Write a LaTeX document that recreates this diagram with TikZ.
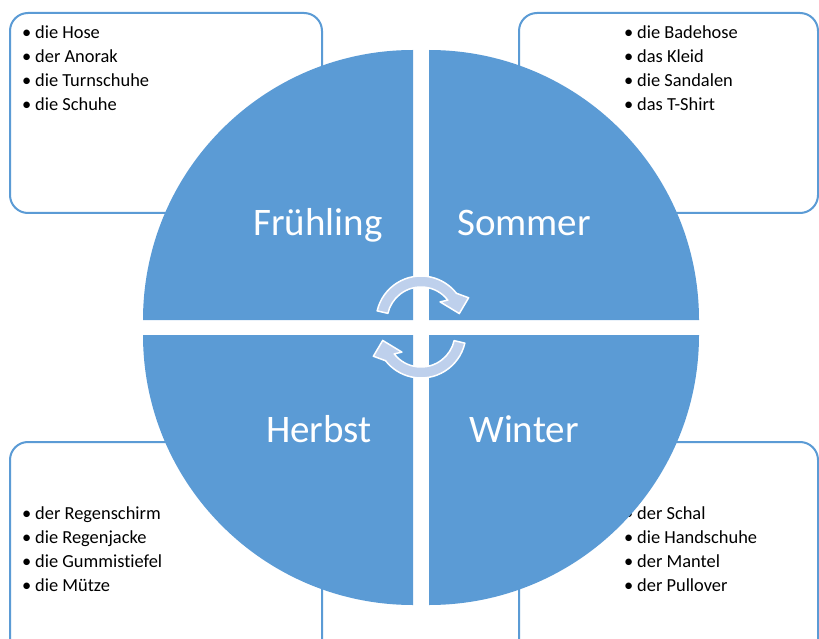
\documentclass[tikz,border=0pt]{standalone}
\usepackage{fontspec}
\setmainfont{Carlito}[Ligatures=NoCommon]
\usetikzlibrary{calc}

\definecolor{seasonblue}{HTML}{5B9BD5}
\definecolor{arrowblue}{RGB}{190,208,236}

\begin{document}
\begin{tikzpicture}[x=1pt, y=-1pt
        , listbox/.style={ draw=seasonblue, line width=2pt, rounded corners=18pt, fill=white }
        , sector/.style={ fill=seasonblue }
        , item/.style={ anchor=base west, inner sep=0pt, font=\fontsize{18.4}{22}\selectfont }
        , season/.style={ anchor=base, inner sep=0pt, text=white, font=\fontsize{39}{44}\selectfont }
        , cycarrow/.style={ fill=arrowblue, draw=white, line width=1.5pt, line join=round }
        ]
        \useasboundingbox (0,0) rectangle (819,639);

        % boxes with the clothes, drawn before the circle
        \draw[listbox] (10,13) rectangle (322,213);
        \draw[listbox] (519,13) rectangle (818,213);
        \draw[listbox] (10,442) rectangle (322,670);
        \draw[listbox] (519,442) rectangle (818,670);

        \foreach \t [count=\i] in {die Hose, der Anorak, die Turnschuhe, die Schuhe}
            \node[item] (fr\i) at (35,15+24*\i) {\llap{\textbullet\hspace{4pt}}\t};

        \foreach \t [count=\i] in {die Badehose, das Kleid, die Sandalen, das T-Shirt}
            \node[item] (so\i) at (637,15+24*\i) {\llap{\textbullet\hspace{4pt}}\t};

        \foreach \t [count=\i] in {der Regenschirm, die Regenjacke, die Gummistiefel, die Mütze}
            \node[item] (he\i) at (35,495+24*\i) {\llap{\textbullet\hspace{4pt}}\t};

        \foreach \t [count=\i] in {der Schal, die Handschuhe, der Mantel, der Pullover}
            \node[item] (wi\i) at (637,495+24*\i) {\llap{\textbullet\hspace{4pt}}\t};

        % four quarters of the circle
        \foreach \cx/\cy/\a in {413/320/180, 429/320/270, 429/335/0, 413/335/90}
            \fill[sector] (\cx,\cy) -- ++(\a:270) arc[start angle=\a, delta angle=90, radius=270] -- cycle;

        \node[season] (fr) at (318,235) {Frühling};
        \node[season] (so) at (524,235) {Sommer};
        \node[season] (he) at (319,442) {Herbst};
        \node[season] (wi) at (524,442) {Winter};

        % the two round arrows in the middle
        \foreach \r/\cy in {0/321, 180/333} {
            \coordinate (c\r) at (421,\cy);
            \filldraw[cycarrow] ($(c\r)+(193+\r:45)$)
                arc[start angle=193+\r, end angle=322+\r, radius=45]
                -- ($(c\r)+(334+\r:53)$) -- ($(c\r)+(349+\r:39)$) -- ($(c\r)+(315+\r:27)$)
                -- ($(c\r)+(322+\r:34)$)
                arc[start angle=322+\r, end angle=193+\r, radius=34] -- cycle;
        }
    \end{tikzpicture}
\end{document}
